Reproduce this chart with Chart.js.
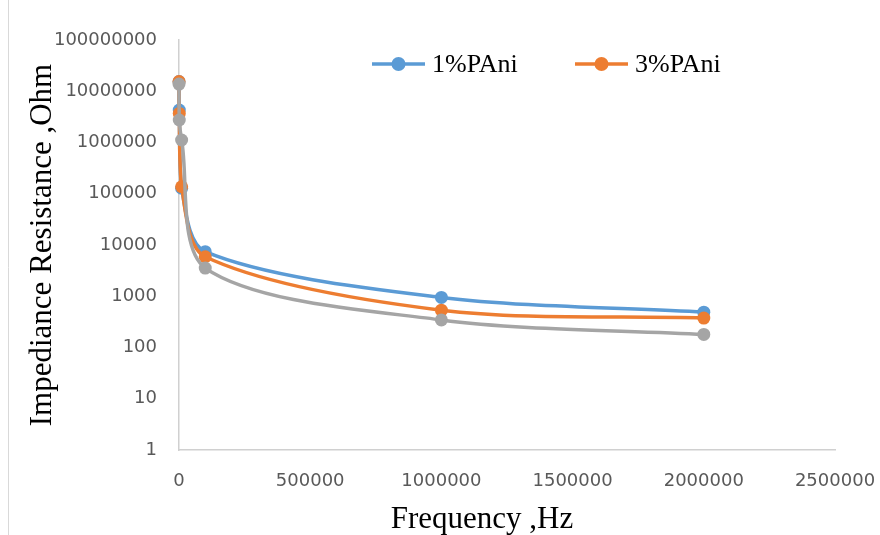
<!DOCTYPE html>
<html>
<head>
<meta charset="utf-8">
<script src="https://cdn.jsdelivr.net/npm/chart.js@4"></script>
<style>
  body { margin: 0; background: #fff; }
</style>
</head>
<body>
<canvas id="impChart" width="880" height="535"></canvas>
<script>
// data
const freqHz = [100, 1000, 10000, 100000, 1000000, 2000000];
const pani1 = [15500000, 4300000, 128000, 7400, 950, 490];
const pani3 = [15500000, 3700000, 137000, 5900, 535, 375];
const pani5 = [13800000, 2750000, 1120000, 3550, 345, 180]; // grey series, no legend entry
const seriesNames = ["1%PAni", "3%PAni", ""];
const xTicks = [0, 500000, 1000000, 1500000, 2000000, 2500000];
const yTicks = [1, 10, 100, 1000, 10000, 100000, 1000000, 10000000, 100000000];

const colors = ["#5b9bd5", "#ed7d31", "#a5a5a5"];

function toPoints(ys) {
  return freqHz.map((f, i) => ({ x: f, y: ys[i] }));
}

function makeSet(i, ys) {
  return {
    label: seriesNames[i],
    data: toPoints(ys),
    borderColor: colors[i],
    backgroundColor: colors[i],
    borderWidth: 3.5,
    pointRadius: 6.5,
    pointBorderWidth: 0,
    tension: 0.3,
    clip: false,
    order: 2 - i
  };
}

// legend, frame line and x title
const extras = {
  id: "extras",
  afterDraw(chart) {
    const ctx = chart.ctx;
    ctx.save();
    ctx.strokeStyle = "#d9d9d9";
    ctx.lineWidth = 1;
    ctx.beginPath();
    ctx.moveTo(8.5, 0);
    ctx.lineTo(8.5, 535);
    ctx.stroke();

    const legendX = [372, 575];
    ctx.font = "26px 'Liberation Serif'";
    ctx.textBaseline = "middle";
    ctx.textAlign = "left";
    chart.data.datasets.forEach((ds, i) => {
      if (!ds.label) return;
      const x = legendX[i], y = 64;
      ctx.strokeStyle = colors[i];
      ctx.lineWidth = 3.5;
      ctx.beginPath();
      ctx.moveTo(x, y);
      ctx.lineTo(x + 53, y);
      ctx.stroke();
      ctx.fillStyle = colors[i];
      ctx.beginPath();
      ctx.arc(x + 26.5, y, 7, 0, Math.PI * 2);
      ctx.fill();
      ctx.fillStyle = "#000";
      ctx.fillText(ds.label, x + 60, y + 1);
    });

    ctx.font = "31px 'Liberation Serif'";
    ctx.textAlign = "center";
    ctx.fillStyle = "#000";
    ctx.fillText("Frequency ,Hz", 482, 520);
    ctx.restore();
  }
};

new Chart(document.getElementById("impChart"), {
  type: "line",
  data: {
    datasets: [makeSet(0, pani1), makeSet(1, pani3), makeSet(2, pani5)]
  },
  options: {
    responsive: false,
    animation: false,
    layout: { padding: { left: 0, top: 40, right: 45, bottom: 0 } },
    plugins: {
      legend: { display: false },
      tooltip: { enabled: false }
    },
    scales: {
      x: {
        type: "linear",
        min: 0,
        max: 2500000,
        afterBuildTicks: s => { s.ticks = xTicks.map(v => ({ value: v })); },
        afterFit: s => { s.height = 85; s.paddingLeft = 0; s.paddingRight = 0; },
        grid: { display: false },
        border: { display: true, color: "#d0d0d0", width: 1.5 },
        ticks: {
          color: "#595959",
          font: { family: "DejaVu Sans", size: 18 },
          padding: 13,
          maxRotation: 0,
          callback: v => String(v)
        }
      },
      y: {
        type: "logarithmic",
        min: 1,
        max: 100000000,
        afterBuildTicks: s => { s.ticks = yTicks.map(v => ({ value: v })); },
        afterFit: s => { s.width = 179; s.paddingTop = 0; s.paddingBottom = 0; },
        grid: { display: false },
        border: { display: true, color: "#d0d0d0", width: 1.5 },
        ticks: {
          color: "#595959",
          font: { family: "DejaVu Sans", size: 18 },
          padding: 14,
          callback: v => String(v)
        },
        title: {
          display: true,
          text: "Impediance Resistance ,Ohm",
          color: "#000",
          font: { family: "Liberation Serif", size: 31 },
          padding: { top: 24, bottom: 0 }
        }
      }
    }
  },
  plugins: [extras]
});
</script>
</body>
</html>
